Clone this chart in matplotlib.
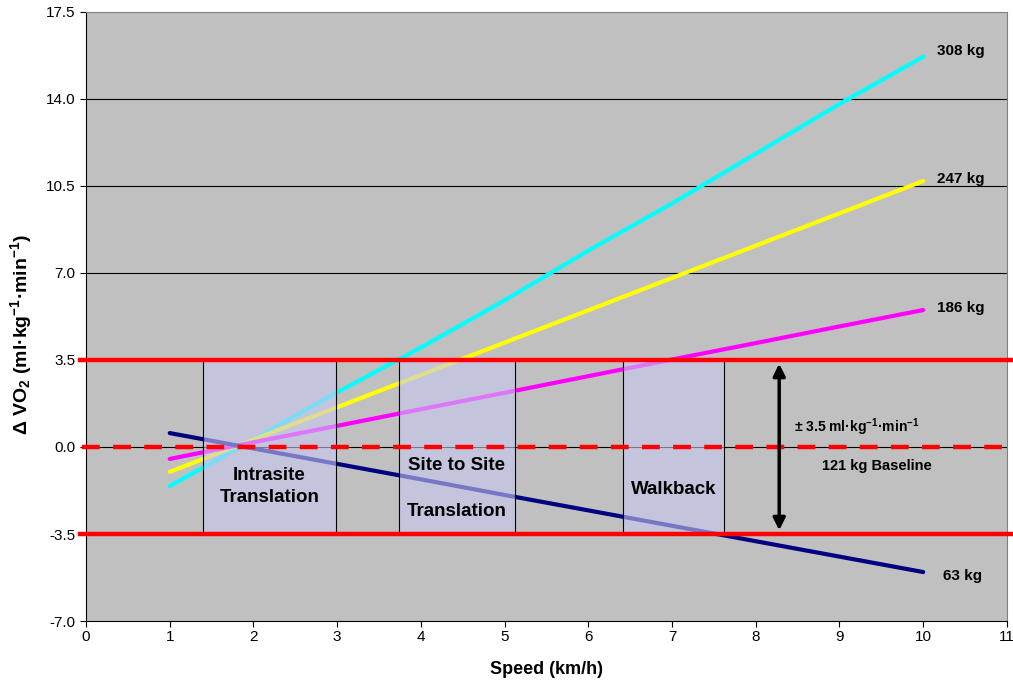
import numpy as np
import matplotlib.pyplot as plt
from matplotlib.patches import Rectangle

plt.rcParams['font.family'] = ['Liberation Sans', 'DejaVu Sans']
plt.rcParams['mathtext.fontset'] = 'custom'
plt.rcParams['mathtext.rm'] = 'Liberation Sans:bold'
plt.rcParams['mathtext.it'] = 'Liberation Sans:bold'
plt.rcParams['mathtext.bf'] = 'Liberation Sans:bold'
plt.rcParams['mathtext.default'] = 'rm'

# data
speed = [1, 2, 3, 4, 5, 6, 7, 8, 9, 10]
vo2_308 = [-1.57, 0.30, 2.20, 4.00, 5.90, 7.90, 9.80, 11.80, 13.80, 15.70]
vo2_247 = [-1.00, 0.30, 1.60, 2.90, 4.20, 5.50, 6.80, 8.10, 9.40, 10.70]
vo2_186 = [-0.48, 0.19, 0.85, 1.52, 2.18, 2.85, 3.52, 4.18, 4.85, 5.51]
vo2_63 = [0.56, -0.06, -0.68, -1.30, -1.93, -2.55, -3.17, -3.79, -4.41, -5.03]

series = [
    (vo2_308, "#00FFFF", "308 kg"),
    (vo2_247, "#FFFF00", "247 kg"),
    (vo2_186, "#FF00FF", "186 kg"),
    (vo2_63, "#000080", "63 kg"),
]

# activity zones (speed ranges)
zones = [(1.40, 2.99), (3.74, 5.13), (6.42, 7.62)]
zone_limit = 3.5

yticks = [-7.0, -3.5, 0.0, 3.5, 7.0, 10.5, 14.0, 17.5]
xticks = list(range(0, 12))

fig = plt.figure(figsize=(10.13, 6.81), dpi=100)
ax = fig.add_axes([0.0849, 0.0881, 0.9091, 0.8943])
ax.set_facecolor("#C0C0C0")

for y in [7.0, 10.5, 14.0]:
    ax.axhline(y, color="black", lw=0.8, zorder=1)
ax.axhline(0, color="black", lw=0.8, zorder=1)

for vals, col, lab in series:
    ax.plot(speed, vals, color=col, lw=3, solid_capstyle="round", zorder=2)

for x0, x1 in zones:
    ax.add_patch(Rectangle((x0, -zone_limit), x1 - x0, 2 * zone_limit,
                           facecolor=(0.784, 0.784, 0.95, 0.6),
                           edgecolor="black", lw=0.8, zorder=3))

# limits and baseline
for y in [zone_limit, -zone_limit]:
    ax.plot([-0.07, 11.07], [y, y], color="#FF0000", lw=3.2, zorder=4,
            clip_on=False)
ax.plot([-0.05, 11.05], [0, 0], color="#FF0000", lw=3.2, ls=(0, (4, 3)),
        zorder=4, clip_on=False)

ax.annotate("", xy=(8.28, -3.35), xytext=(8.28, 3.35),
            arrowprops=dict(arrowstyle="<|-|>", color="black", lw=2.5,
                            mutation_scale=18, shrinkA=0, shrinkB=0),
            zorder=5)

lab_pos = [(10.17, 15.95), (10.16, 10.8), (10.16, 5.6), (10.24, -5.2)]
for (vals, col, lab), (lx, ly) in zip(series, lab_pos):
    ax.text(lx, ly, lab, fontsize=11, fontweight="bold", va="center",
            ha="left", zorder=6)

ax.text(8.46, 0.8, r"± 3.5 ml·kg$^{-1}$·min$^{-1}$", fontsize=10,
        fontweight="bold", va="center", ha="left", zorder=6)
ax.text(9.45, -0.75, "121 kg Baseline", fontsize=10.5, fontweight="bold",
        va="center", ha="center", zorder=6)

ax.text(2.19, -1.15, "Intrasite", fontsize=13.5, fontweight="bold",
        va="center", ha="center", zorder=6)
ax.text(2.19, -2.05, "Translation", fontsize=13.5, fontweight="bold",
        va="center", ha="center", zorder=6)
ax.text(4.43, -0.75, "Site to Site", fontsize=13.5, fontweight="bold",
        va="center", ha="center", zorder=6)
ax.text(4.43, -2.6, "Translation", fontsize=13.5, fontweight="bold",
        va="center", ha="center", zorder=6)
ax.text(7.02, -1.7, "Walkback", fontsize=13.5, fontweight="bold",
        va="center", ha="center", zorder=6)

ax.set_xlim(0, 11)
ax.set_ylim(-7, 17.5)
ax.set_xticks(xticks)
ax.set_yticks(yticks)
ax.set_yticklabels(["%.1f" % v for v in yticks])
ax.tick_params(direction="out", length=4, width=0.8, labelsize=11)
ax.tick_params(axis="x", pad=2.5)

for side in ["top", "right"]:
    ax.spines[side].set_color("#808080")
ax.set_xlabel("Speed (km/h)", fontsize=13, fontweight="bold", labelpad=12)
ax.set_ylabel(r"Δ VO$_2$ (ml·kg$^{-1}$·min$^{-1}$)", fontsize=14,
              fontweight="bold")
ax.yaxis.set_label_coords(-0.056, 0.47)

fig.savefig("out.png", dpi=100)
